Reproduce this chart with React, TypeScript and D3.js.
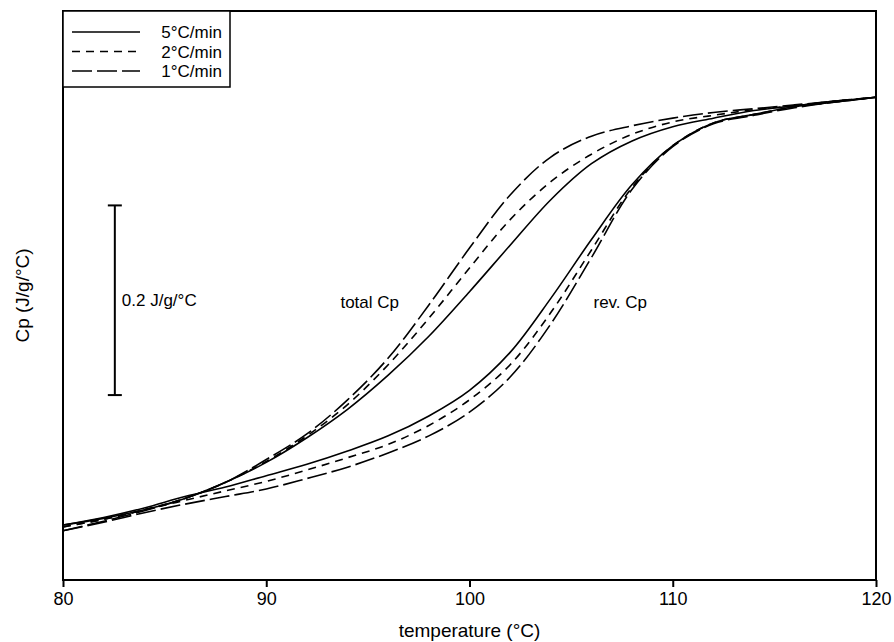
import React, { useEffect, useRef } from 'react';
import * as d3 from 'd3';

// temperature grid (°C)
const temps = [80, 82, 84, 86, 88, 90, 92, 94, 96, 98, 100, 102, 104, 106, 108, 110, 112, 114, 116, 118, 120];

// total Cp (J/g/°C, offset)
const total5 = [0.058, 0.065, 0.074, 0.086, 0.103, 0.124, 0.150, 0.180, 0.216, 0.257, 0.304, 0.353, 0.401, 0.439, 0.463, 0.478, 0.487, 0.495, 0.500, 0.505, 0.509];
const total2 = [0.056, 0.064, 0.074, 0.086, 0.103, 0.125, 0.152, 0.185, 0.227, 0.276, 0.329, 0.380, 0.420, 0.449, 0.470, 0.483, 0.490, 0.496, 0.500, 0.505, 0.509];
const total1 = [0.052, 0.062, 0.073, 0.086, 0.103, 0.127, 0.154, 0.190, 0.234, 0.290, 0.350, 0.406, 0.446, 0.468, 0.479, 0.487, 0.493, 0.497, 0.501, 0.505, 0.509];

// reversing Cp
const rev5 = [0.058, 0.066, 0.076, 0.088, 0.098, 0.110, 0.122, 0.136, 0.152, 0.173, 0.200, 0.240, 0.297, 0.359, 0.417, 0.458, 0.482, 0.491, 0.499, 0.504, 0.509];
const rev2 = [0.056, 0.064, 0.074, 0.084, 0.094, 0.104, 0.116, 0.129, 0.143, 0.163, 0.190, 0.227, 0.282, 0.348, 0.414, 0.458, 0.482, 0.491, 0.499, 0.504, 0.509];
const rev1 = [0.052, 0.061, 0.071, 0.080, 0.088, 0.096, 0.107, 0.119, 0.134, 0.152, 0.177, 0.214, 0.270, 0.340, 0.412, 0.457, 0.481, 0.490, 0.498, 0.504, 0.509];

const rates = ['5°C/min', '2°C/min', '1°C/min'];
const dashes = ['none', '8,6', '20,5'];
const xTicks = [80, 90, 100, 110, 120];

const scaleBar = { t: 82.55, from: 0.195, to: 0.395 };

const App = () => {
    const ref = useRef(null);

    useEffect(() => {
        const left = 63, right = 876, top = 11, bottom = 580;
        const font = 'Liberation Sans, Arial, sans-serif';

        const svg = d3.select(ref.current);
        svg.selectAll('*').remove();

        const x = d3.scaleLinear().domain([80, 120]).range([left, right]);
        const y = d3.scaleLinear().domain([0, 0.6]).range([bottom, top]);

        const line = d3.line()
            .x(d => x(d[0]))
            .y(d => y(d[1]))
            .curve(d3.curveCatmullRom.alpha(0.5));

        const groups = [[total5, total2, total1], [rev5, rev2, rev1]];
        groups.forEach(g => {
            g.forEach((vals, i) => {
                svg.append('path')
                    .attr('d', line(temps.map((t, j) => [t, vals[j]])))
                    .attr('fill', 'none')
                    .attr('stroke', '#000')
                    .attr('stroke-width', 1.6)
                    .attr('stroke-dasharray', dashes[i]);
            });
        });

        // frame
        svg.append('rect')
            .attr('x', left).attr('y', top)
            .attr('width', right - left).attr('height', bottom - top)
            .attr('fill', 'none').attr('stroke', '#000').attr('stroke-width', 2);

        // x axis
        const xAxis = svg.append('g')
            .attr('transform', `translate(0,${bottom})`)
            .call(d3.axisBottom(x).tickValues(xTicks).tickSize(7).tickPadding(5));
        xAxis.select('.domain').remove();
        xAxis.selectAll('line').attr('stroke-width', 2);
        xAxis.selectAll('text')
            .attr('font-family', font)
            .attr('font-size', 18)
            .attr('fill', '#000');

        svg.append('text')
            .attr('x', (left + right) / 2)
            .attr('y', 637)
            .attr('text-anchor', 'middle')
            .attr('font-family', font)
            .attr('font-size', 19)
            .text('temperature (°C)');

        svg.append('text')
            .attr('transform', `translate(29,${(top + bottom) / 2}) rotate(-90)`)
            .attr('text-anchor', 'middle')
            .attr('font-family', font)
            .attr('font-size', 19)
            .text('Cp (J/g/°C)');

        // scale bar
        const sx = x(scaleBar.t);
        svg.append('line')
            .attr('x1', sx).attr('x2', sx)
            .attr('y1', y(scaleBar.from)).attr('y2', y(scaleBar.to))
            .attr('stroke', '#000').attr('stroke-width', 2);
        [scaleBar.from, scaleBar.to].forEach(v => {
            svg.append('line')
                .attr('x1', sx - 7).attr('x2', sx + 7)
                .attr('y1', y(v)).attr('y2', y(v))
                .attr('stroke', '#000').attr('stroke-width', 2);
        });
        svg.append('text')
            .attr('x', sx + 7)
            .attr('y', y((scaleBar.from + scaleBar.to) / 2) + 6)
            .attr('font-family', font)
            .attr('font-size', 17)
            .text('0.2 J/g/°C');

        // curve labels
        svg.append('text')
            .attr('x', x(93.65)).attr('y', y(0.293) + 6)
            .attr('font-family', font).attr('font-size', 17)
            .text('total Cp');
        svg.append('text')
            .attr('x', x(106.1)).attr('y', y(0.293) + 6)
            .attr('font-family', font).attr('font-size', 17)
            .text('rev. Cp');

        // legend
        const legend = svg.append('g');
        legend.append('rect')
            .attr('x', left).attr('y', top)
            .attr('width', 167).attr('height', 76)
            .attr('fill', '#fff').attr('stroke', '#000').attr('stroke-width', 1.5);
        rates.forEach((r, i) => {
            const ly = 32 + i * 19.5;
            legend.append('line')
                .attr('x1', 72).attr('x2', 140)
                .attr('y1', ly).attr('y2', ly)
                .attr('stroke', '#000').attr('stroke-width', 1.5)
                .attr('stroke-dasharray', dashes[i]);
            legend.append('text')
                .attr('x', 222).attr('y', ly + 6)
                .attr('text-anchor', 'end')
                .attr('font-family', font).attr('font-size', 17)
                .text(r);
        });
    }, []);

    return (
        <svg ref={ref} width={894} height={642} style={{ position: 'absolute', left: 0, top: 0, background: '#fff' }}></svg>
    );
};

export default App;
